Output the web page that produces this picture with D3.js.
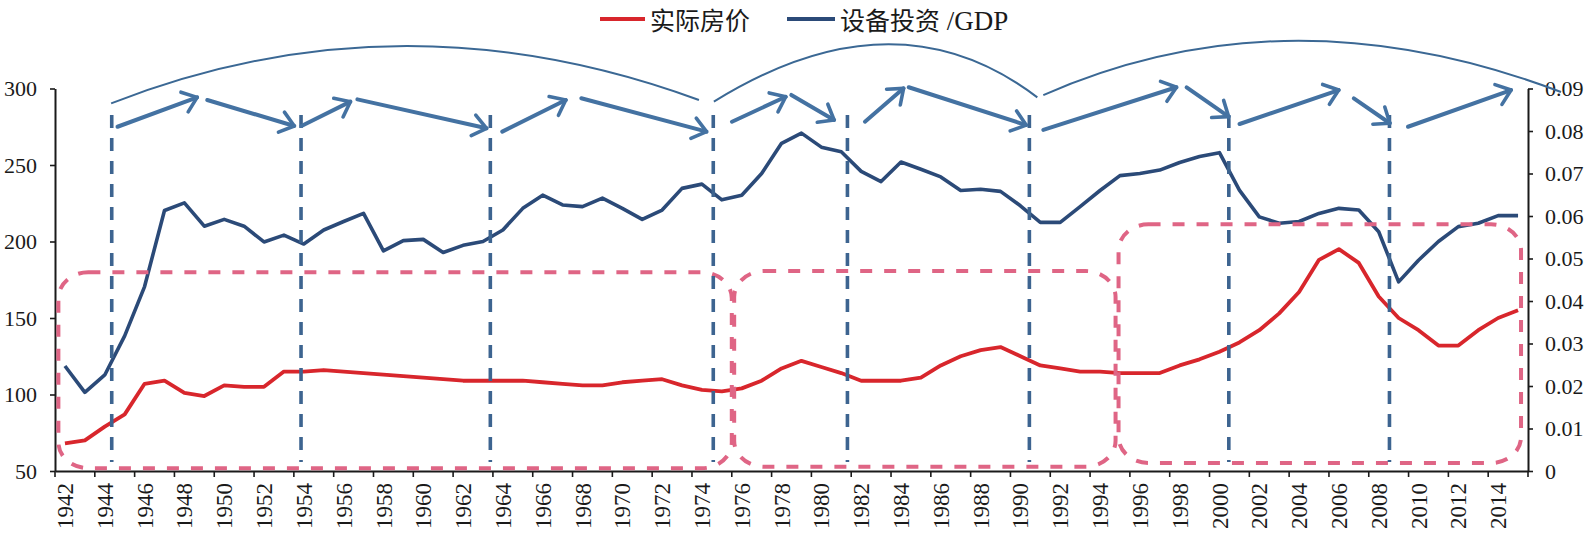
<!DOCTYPE html>
<html><head><meta charset="utf-8">
<script src="https://cdn.jsdelivr.net/npm/d3@7"></script>
<style>html,body{margin:0;padding:0;background:#fff;}svg{display:block}</style>
</head><body>
<svg id="chart" width="1586" height="533"></svg>
<script>
// ---------------- data ----------------
const years = [1942,1943,1944,1945,1946,1947,1948,1949,1950,1951,1952,1953,1954,1955,1956,1957,1958,1959,
1960,1961,1962,1963,1964,1965,1966,1967,1968,1969,1970,1971,1972,1973,1974,1975,1976,1977,1978,1979,
1980,1981,1982,1983,1984,1985,1986,1987,1988,1989,1990,1991,1992,1993,1994,1995,1996,1997,1998,1999,
2000,2001,2002,2003,2004,2005,2006,2007,2008,2009,2010,2011,2012,2013,2014,2015];

const housePrice = [68,70,79,87,107,109,101,99,106,105,105,115,115,116,115,114,113,112,
111,110,109,109,109,109,108,107,106,106,108,109,110,106,103,102,104,109,117,122,
118,114,109,109,109,111,119,125,129,131,125,119,117,115,115,114,114,114,119,123,
128,134,142,153,167,188,195,186,164,150,142,132,132,142,150,155];

const equipInvGdp = [0.0247,0.0185,0.0226,0.0318,0.0434,0.0613,0.0631,0.0576,0.0592,0.0576,0.0539,0.0555,0.0534,0.0567,0.0587,0.0606,0.0518,0.0542,
0.0545,0.0514,0.0531,0.0540,0.0567,0.0618,0.0649,0.0626,0.0622,0.0642,0.0618,0.0592,0.0614,0.0665,0.0675,0.0638,0.0649,0.0700,0.0771,0.0795,
0.0762,0.0751,0.0705,0.0681,0.0727,0.0710,0.0692,0.0660,0.0663,0.0658,0.0624,0.0585,0.0585,0.0622,0.0660,0.0695,0.0700,0.0708,0.0726,0.0740,
0.0749,0.0661,0.0598,0.0583,0.0587,0.0606,0.0618,0.0614,0.0563,0.0445,0.0496,0.0540,0.0575,0.0583,0.0601,0.0601];

const xTickLabels = ["1942","1944","1946","1948","1950","1952","1954","1956","1958","1960","1962","1964","1966","1968",
"1970","1972","1974","1976","1978","1980","1982","1984","1986","1988","1990","1992","1994","1996","1998","2000",
"2002","2004","2006","2008","2010","2012","2014"];
const leftTicks = [50,100,150,200,250,300];
const rightTicks = [0,0.01,0.02,0.03,0.04,0.05,0.06,0.07,0.08,0.09];
const seriesNames = ["实际房价","设备投资"];

// annotations (in year / left-axis value units)
const cycleLineYears = [1944.35,1953.86,1963.37,1974.57,1981.31,1990.45,2000.47,2008.54];
const cycleLineRange = [282.7, 55.9];
// [yearStart, yearEnd, valueTop, valueBottom]
const phaseBoxes = [
  [1941.67,1975.50,179.9,51.8],
  [1975.62,1994.78,180.7,52.8],
  [1994.93,2015.15,211.2,55.2]
];
// [year0, value0, year1, value1]
const arrows = [
  [1944.64,275.0,1948.64,294.2],
  [1949.15,292.5,1953.52,275.5],
  [1953.88,275.5,1956.34,291.4],
  [1956.69,292.9,1963.18,274.0],
  [1963.97,271.8,1967.16,292.5],
  [1967.94,293.6,1974.23,271.8],
  [1975.51,278.3,1978.21,294.6],
  [1978.49,295.8,1980.64,279.4],
  [1982.19,278.3,1984.13,300.1],
  [1984.39,300.8,1990.29,276.1],
  [1991.15,272.9,1997.84,300.8],
  [1998.35,300.8,2000.46,281.6],
  [2001.01,276.8,2005.99,299.0],
  [2006.75,293.6,2008.56,277.3],
  [2009.47,275.0,2014.65,299.0]
];
// [startYear, startVal, peakYear, peakVal, endYear, endVal]
const longArcs = [
  [1944.32,290.3,1958.96,327.8,1973.85,292.5],
  [1974.60,291.4,1983.22,328.9,1990.85,294.2],
  [1991.15,295.7,2003.78,331.2,2017.16,297.7]
];

// ---------------- layout ----------------
const X0 = 55, X1 = 1528, YT = 88.5, YB = 471;
const svg = d3.select("#chart");
const numFont = "'Liberation Serif','Times New Roman',serif";
const cjkFont = "'Noto Sans CJK SC','Noto Sans',sans-serif";

const x = d3.scaleBand().domain(years).range([X0, X1]).padding(0);
const xc = d => x(d) + x.bandwidth() / 2;
const xLin = d3.scaleLinear().domain([years[0] - 0.5, years[years.length - 1] + 0.5]).range([X0, X1]);
const yL = d3.scaleLinear().domain([50, 300]).range([YB, YT]);
const yR = d3.scaleLinear().domain([0, 0.09]).range([YB, YT]);

// ---------------- axes ----------------
const axL = svg.append("g").attr("transform", `translate(${X0},0)`)
  .call(d3.axisLeft(yL).tickValues(leftTicks).tickSize(5).tickSizeOuter(0).tickPadding(13).tickFormat(d3.format("d")));
const axR = svg.append("g").attr("transform", `translate(${X1},0)`)
  .call(d3.axisRight(yR).tickValues(rightTicks).tickSize(5).tickSizeOuter(0).tickPadding(12)
    .tickFormat(d => d === 0 ? "0" : d3.format(".2f")(d)));
const axB = svg.append("g").attr("transform", `translate(0,${YB})`)
  .call(d3.axisBottom(x).tickValues(xTickLabels.map(Number)).tickSize(0).tickSizeOuter(0));
axB.selectAll("text")
  .attr("transform", "rotate(-90)").attr("x", -12).attr("y", 0).attr("dy", "0.35em")
  .attr("text-anchor", "end");
// category-boundary tick marks every two years
const tickBounds = xTickLabels.map(d => x(+d)).concat([X1]);
axB.selectAll("line.bt").data(tickBounds).enter().append("line").attr("class", "bt")
  .attr("x1", d => d).attr("x2", d => d).attr("y1", 0).attr("y2", 6);

[axL, axR, axB].forEach(a => {
  a.attr("font-family", null);
  a.selectAll("path.domain").attr("stroke", "#1a1a1a").attr("stroke-width", 2);
  a.selectAll("line").attr("stroke", "#1a1a1a").attr("stroke-width", 1.6);
  a.selectAll("text").style("font-family", numFont).attr("fill", "#1a1a1a").style("font-size", "22px");
});
axB.selectAll("text").style("font-size", "23px");

// ---------------- series ----------------
const lineRed = d3.line().x((d, i) => xc(years[i])).y(d => yL(d));
const lineBlue = d3.line().x((d, i) => xc(years[i])).y(d => yR(d));
svg.append("path").datum(equipInvGdp).attr("d", lineBlue).attr("fill", "none")
  .attr("stroke", "#2b4a78").attr("stroke-width", 3.6).attr("stroke-linejoin", "round");
svg.append("path").datum(housePrice).attr("d", lineRed).attr("fill", "none")
  .attr("stroke", "#d8262c").attr("stroke-width", 3.8).attr("stroke-linejoin", "round");

// ---------------- annotations ----------------
const boxRx = 30, boxRy = 26;
svg.selectAll("rect.box").data(phaseBoxes).enter().append("rect").attr("class", "box")
  .attr("x", d => xLin(d[0])).attr("y", d => yL(d[2]))
  .attr("width", d => xLin(d[1]) - xLin(d[0])).attr("height", d => yL(d[3]) - yL(d[2]))
  .attr("rx", boxRx).attr("ry", boxRy)
  .attr("fill", "none").attr("stroke", "#df6585").attr("stroke-width", 4)
  .attr("stroke-dasharray", "12,12");

svg.selectAll("line.cyc").data(cycleLineYears).enter().append("line").attr("class", "cyc")
  .attr("x1", d => xLin(d)).attr("x2", d => xLin(d))
  .attr("y1", yL(cycleLineRange[0])).attr("y2", yL(cycleLineRange[1]))
  .attr("stroke", "#3d6490").attr("stroke-width", 3.6).attr("stroke-dasharray", "13,10");

svg.selectAll("path.arc").data(longArcs).enter().append("path").attr("class", "arc")
  .attr("d", d => {
    const p0 = [xLin(d[0]), yL(d[1])], pk = [xLin(d[2]), yL(d[3])], p2 = [xLin(d[4]), yL(d[5])];
    const c = [2 * pk[0] - (p0[0] + p2[0]) / 2, 2 * pk[1] - (p0[1] + p2[1]) / 2];
    return `M${p0[0]},${p0[1]} Q${c[0]},${c[1]} ${p2[0]},${p2[1]}`;
  })
  .attr("fill", "none").attr("stroke", "#3b6894").attr("stroke-width", 2);

const arrowG = svg.append("g").attr("fill", "none").attr("stroke", "#4472a2")
  .attr("stroke-linecap", "round").attr("stroke-linejoin", "round");
const headLen = 17, headAng = 38 * Math.PI / 180;
arrows.forEach(a => {
  const x0 = xLin(a[0]), y0 = yL(a[1]), x1 = xLin(a[2]), y1 = yL(a[3]);
  const ang = Math.atan2(y1 - y0, x1 - x0);
  arrowG.append("line").attr("x1", x0).attr("y1", y0).attr("x2", x1).attr("y2", y1).attr("stroke-width", 4);
  const l = [x1 - headLen * Math.cos(ang - headAng), y1 - headLen * Math.sin(ang - headAng)];
  const r = [x1 - headLen * Math.cos(ang + headAng), y1 - headLen * Math.sin(ang + headAng)];
  arrowG.append("path").attr("d", `M${l[0]},${l[1]} L${x1},${y1} L${r[0]},${r[1]}`).attr("stroke-width", 3.6);
});

// ---------------- legend ----------------
const lg = svg.append("g");
lg.append("line").attr("x1", 600).attr("x2", 645).attr("y1", 19).attr("y2", 19)
  .attr("stroke", "#d8262c").attr("stroke-width", 4);
lg.append("text").attr("x", 650).attr("y", 29.5).style("font-family", cjkFont).style("font-size", "25px")
  .attr("fill", "#1a1a1a").text(seriesNames[0]);
lg.append("line").attr("x1", 787).attr("x2", 835).attr("y1", 19).attr("y2", 19)
  .attr("stroke", "#2b4a78").attr("stroke-width", 4);
const t2 = lg.append("text").attr("x", 840).attr("y", 29.5).style("font-size", "25px").attr("fill", "#1a1a1a");
t2.append("tspan").style("font-family", cjkFont).text(seriesNames[1]);
t2.append("tspan").style("font-family", numFont).style("font-size", "27px").text(" /GDP");
</script>
</body></html>
